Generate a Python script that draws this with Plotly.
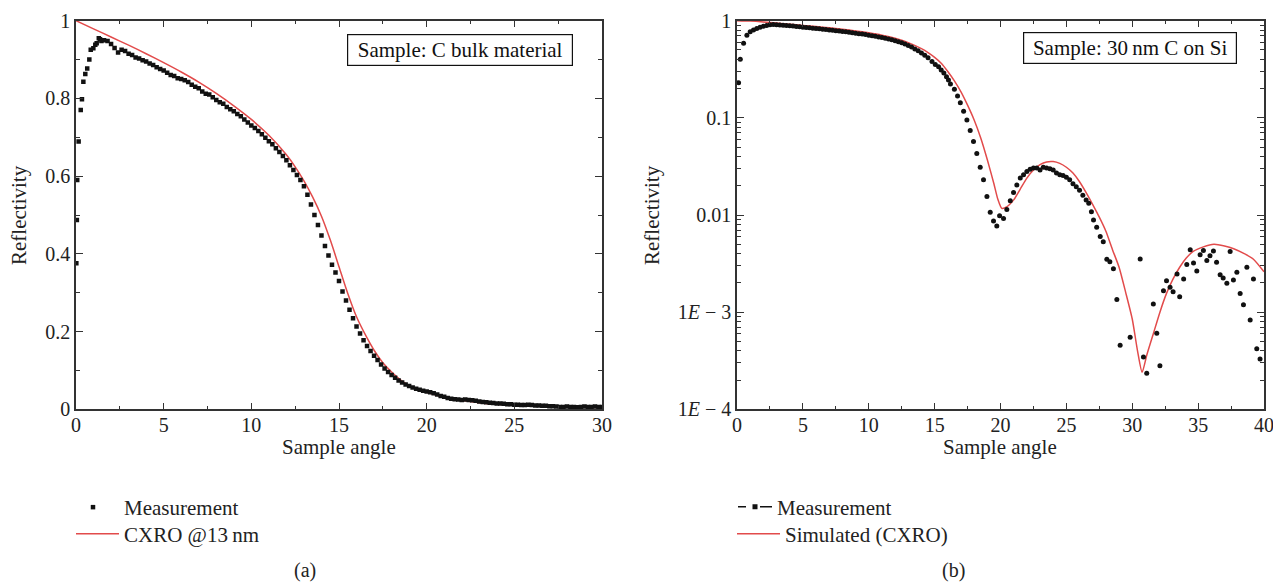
import plotly.graph_objects as go

# ---------------- panel (a): C bulk material ----------------
a_meas_x = [0.02, 0.05, 0.07, 0.15, 0.27, 0.34, 0.42, 0.53, 0.64, 0.76,
            0.84, 0.99, 1.10, 1.18, 1.30, 1.37, 1.45,
            1.6, 1.8, 2.0, 2.2, 2.4, 2.6, 2.8, 3.0, 3.2, 3.4,
            3.6, 3.8, 4.0, 4.2, 4.4, 4.6, 4.8, 5.0, 5.2, 5.4,
            5.6, 5.8, 6.0, 6.2, 6.4, 6.6, 6.8, 7.0, 7.2, 7.4,
            7.6, 7.8, 8.0, 8.2, 8.4, 8.6, 8.8, 9.0, 9.2, 9.4,
            9.6, 9.8, 10.0, 10.2, 10.4, 10.6, 10.8, 11.0, 11.2, 11.4,
            11.6, 11.8, 12.0, 12.2, 12.4, 12.6, 12.8, 13.0, 13.2, 13.4,
            13.6, 13.8, 14.0, 14.2, 14.4, 14.6, 14.8, 15.0, 15.2, 15.4,
            15.6, 15.8, 16.0, 16.2, 16.4, 16.6, 16.8, 17.0, 17.2, 17.4,
            17.6, 17.8, 18.0, 18.2, 18.4, 18.6, 18.8, 19.0, 19.2, 19.4,
            19.6, 19.8, 20.0, 20.2, 20.4, 20.6, 20.8, 21.0, 21.2, 21.4,
            21.6, 21.8, 22.0, 22.2, 22.4, 22.6, 22.8, 23.0, 23.2, 23.4,
            23.6, 23.8, 24.0, 24.2, 24.4, 24.6, 24.8, 25.0, 25.2, 25.4,
            25.6, 25.8, 26.0, 26.2, 26.4, 26.6, 26.8, 27.0, 27.2, 27.4,
            27.6, 27.8, 28.0, 28.2, 28.4, 28.6, 28.8, 29.0, 29.2, 29.4,
            29.6, 29.8, 30.0]
a_meas_y = [0.376, 0.487, 0.590, 0.689, 0.770, 0.798, 0.843, 0.863, 0.877, 0.900,
            0.925, 0.929, 0.938, 0.942, 0.955, 0.952, 0.948,
            0.950, 0.948, 0.940, 0.930, 0.918, 0.925, 0.922, 0.915, 0.912, 0.905,
            0.903, 0.898, 0.895, 0.890, 0.886, 0.880, 0.876, 0.872, 0.866, 0.860,
            0.858, 0.852, 0.850, 0.847, 0.842, 0.835, 0.830, 0.826, 0.818, 0.812,
            0.810, 0.803, 0.796, 0.790, 0.786, 0.778, 0.772, 0.767, 0.760, 0.754,
            0.746, 0.738, 0.730, 0.724, 0.716, 0.708, 0.699, 0.690, 0.682, 0.672,
            0.662, 0.652, 0.641, 0.628, 0.616, 0.603, 0.590, 0.574, 0.552, 0.527,
            0.500, 0.474, 0.447, 0.420, 0.396, 0.372, 0.352, 0.330, 0.303, 0.280,
            0.256, 0.234, 0.213, 0.195, 0.178, 0.163, 0.150, 0.138, 0.127, 0.115,
            0.105, 0.096, 0.088, 0.081, 0.074, 0.069, 0.064, 0.060, 0.056, 0.053,
            0.050, 0.048, 0.046, 0.044, 0.041, 0.038, 0.034, 0.032, 0.029, 0.027,
            0.026, 0.025, 0.024, 0.025, 0.024, 0.023, 0.022, 0.020, 0.019, 0.018,
            0.017, 0.016, 0.015, 0.015, 0.014, 0.013, 0.013, 0.012, 0.012, 0.011,
            0.011, 0.012, 0.011, 0.010, 0.010, 0.009, 0.009, 0.008, 0.008, 0.007,
            0.006, 0.006, 0.007, 0.006, 0.006, 0.005, 0.006, 0.007, 0.006, 0.006,
            0.007, 0.006, 0.006]

a_cxro_x = [0, 1, 2, 3, 4, 5, 6, 7, 8, 9,
            10, 11, 12, 12.5, 13, 13.5, 14, 14.5, 15, 15.5,
            16, 16.5, 17, 17.5, 18, 18.5, 19, 19.5, 20, 21,
            22, 23, 24, 25, 26, 27, 28, 29, 30]
a_cxro_y = [1.0, 0.979, 0.958, 0.937, 0.915, 0.892, 0.868, 0.842, 0.813, 0.781,
            0.746, 0.705, 0.655, 0.624, 0.588, 0.546, 0.497, 0.436, 0.367, 0.298,
            0.238, 0.192, 0.152, 0.120, 0.096, 0.076, 0.061, 0.051, 0.044, 0.031,
            0.023, 0.017, 0.013, 0.011, 0.009, 0.007, 0.006, 0.005, 0.005]

# ---------------- panel (b): 30 nm C on Si ----------------
b_meas_x = [0.12, 0.25, 0.5, 0.75, 1.0, 1.25, 1.5, 1.75, 2.0, 2.25,
            2.5, 2.75, 3.0, 3.25, 3.5, 3.75, 4.0, 4.25, 4.5, 4.75,
            5.0, 5.25, 5.5, 5.75, 6.0, 6.25, 6.5, 6.75, 7.0, 7.25,
            7.5, 7.75, 8.0, 8.25, 8.5, 8.75, 9.0, 9.25, 9.5, 9.75,
            10.0, 10.25, 10.5, 10.75, 11.0, 11.25, 11.5, 11.75, 12.0, 12.25,
            12.5, 12.75, 13.0, 13.25, 13.5, 13.75, 14.0, 14.25, 14.5, 14.8,
            15.05, 15.3, 15.5, 15.7, 15.9, 16.05, 16.2, 16.5, 16.74, 16.95,
            17.2, 17.45, 17.7, 17.95, 18.2, 18.46, 18.71, 18.97, 19.22, 19.47,
            19.72, 19.93, 20.23, 20.48, 20.74, 20.99, 21.24, 21.5, 21.75, 22.0,
            22.25, 22.5, 22.75, 23.0, 23.25, 23.5, 23.75, 24.0, 24.25, 24.5,
            24.75, 25.0, 25.25, 25.5, 25.75, 26.0, 26.25, 26.5, 26.7, 26.9,
            27.06, 27.3, 27.57, 27.8, 28.07, 28.3, 28.57, 28.83, 29.08, 29.84,
            30.6, 30.85, 31.1, 31.6, 31.86, 32.1, 32.37, 32.6, 32.87, 33.1,
            33.4, 33.6, 33.9, 34.14, 34.4, 34.65, 34.9, 35.15, 35.4, 35.66,
            35.9, 36.16, 36.4, 36.67, 36.9, 37.18, 37.43, 37.68, 37.94, 38.19,
            38.44, 38.7, 38.95, 39.2, 39.45, 39.7]
b_meas_y = [0.23, 0.40, 0.585, 0.71, 0.77, 0.80, 0.83, 0.855, 0.875, 0.895,
            0.91, 0.915, 0.91, 0.905, 0.90, 0.893, 0.886, 0.88, 0.872, 0.865,
            0.858, 0.852, 0.845, 0.838, 0.83, 0.825, 0.818, 0.81, 0.803, 0.796,
            0.789, 0.782, 0.775, 0.768, 0.76, 0.752, 0.744, 0.736, 0.728, 0.72,
            0.71, 0.70, 0.69, 0.68, 0.67, 0.66, 0.648, 0.636, 0.622, 0.608,
            0.592, 0.575, 0.555, 0.535, 0.512, 0.49, 0.465, 0.44, 0.415, 0.38,
            0.355, 0.336, 0.31, 0.29, 0.265, 0.245, 0.223, 0.197, 0.168, 0.143,
            0.117, 0.095, 0.074, 0.057, 0.043, 0.031, 0.023, 0.0155, 0.0107, 0.0087,
            0.0077, 0.0098, 0.0092, 0.0114, 0.014, 0.017, 0.0204, 0.024, 0.026, 0.028,
            0.0295, 0.0305, 0.0305, 0.029, 0.031, 0.0305, 0.030, 0.029, 0.027, 0.026,
            0.0255, 0.0245, 0.023, 0.021, 0.0195, 0.018, 0.016, 0.0143, 0.0132, 0.0108,
            0.0089, 0.0075, 0.006, 0.0053, 0.0035, 0.0033, 0.0028, 0.00135, 0.000455, 0.00055,
            0.00352, 0.000345, 0.000235, 0.00121, 0.000605, 0.00028, 0.00166, 0.0021, 0.0018, 0.00162,
            0.00247, 0.00144, 0.00219, 0.0031, 0.0044, 0.0032, 0.00265, 0.0039, 0.0043, 0.0034,
            0.0038, 0.00426, 0.00326, 0.00243, 0.00224, 0.00198, 0.0042, 0.00214, 0.00257, 0.00156,
            0.00119, 0.0029, 0.00083, 0.00219, 0.00042, 0.00033]

b_sim_x = [0, 1, 2, 3, 4, 5, 6, 7, 8, 9,
           10, 11, 12, 13, 14, 14.5, 15, 15.5, 16, 16.5,
           17, 17.5, 18, 18.5, 19, 19.5, 19.8, 20.1, 20.5, 21,
           21.5, 22, 22.5, 23, 23.5, 24, 24.5, 25, 25.5, 26,
           26.5, 27, 27.5, 28, 28.5, 29, 29.5, 30, 30.4, 30.75,
           31.1, 31.6, 32.1, 32.6, 33.1, 33.6, 34.1, 34.6, 35.4, 36.2,
           37, 37.7, 38.5, 39.2, 40]
b_sim_y = [1.0, 0.99, 0.97, 0.945, 0.92, 0.895, 0.87, 0.845, 0.815, 0.785,
           0.75, 0.71, 0.66, 0.595, 0.515, 0.47, 0.42, 0.365, 0.30, 0.24,
           0.185, 0.135, 0.095, 0.062, 0.037, 0.021, 0.0145, 0.0117, 0.0122, 0.0143,
           0.0185, 0.024, 0.029, 0.033, 0.0352, 0.0355, 0.034, 0.031, 0.027, 0.022,
           0.017, 0.0128, 0.0095, 0.0068, 0.0044, 0.0029, 0.0016, 0.00085, 0.0004, 0.00024,
           0.00036, 0.0006, 0.001, 0.00156, 0.0022, 0.0029, 0.0036, 0.0042, 0.0047, 0.005,
           0.0048, 0.0045, 0.004, 0.0035, 0.0026]

a_xticks = [0, 5, 10, 15, 20, 25, 30]
a_yticks = [0, 0.2, 0.4, 0.6, 0.8, 1]
b_xticks = [0, 5, 10, 15, 20, 25, 30, 35, 40]
b_yticks = [1e-4, 1e-3, 0.01, 0.1, 1]
b_yticktext = ["1<i>E</i> − 4", "1<i>E</i> − 3", "0.01", "0.1", "1"]

# ---------------- geometry (page body has an 8px margin) ----------------
OFF = 8
W, H = 1281 - OFF, 583 - OFF


def px(X):
    return (X - OFF) / W


def py(Y):
    return (H - (Y - OFF)) / H


FONT = "Liberation Serif"
RED = "#e24b4b"
INK = "#111111"
AXC = "#333333"
TXT = "#222222"

fig = go.Figure()

fig.add_trace(go.Scatter(x=a_cxro_x, y=a_cxro_y, mode="lines", name="CXRO @13\u2009nm",
                         line=dict(color=RED, width=1.5, shape="spline", smoothing=0.8),
                         xaxis="x", yaxis="y", legend="legend3"))
fig.add_trace(go.Scatter(x=a_meas_x, y=a_meas_y, mode="markers", name="Measurement",
                         marker=dict(symbol="square", size=4.5, color=INK, line=dict(width=0)),
                         xaxis="x", yaxis="y", legend="legend"))

fig.add_trace(go.Scatter(x=b_sim_x, y=b_sim_y, mode="lines", name="Simulated (CXRO)",
                         line=dict(color=RED, width=1.5, shape="spline", smoothing=0.6),
                         xaxis="x2", yaxis="y2", legend="legend4"))
fig.add_trace(go.Scatter(x=b_meas_x, y=b_meas_y, mode="markers", showlegend=False,
                         marker=dict(symbol="circle", size=5, color=INK, line=dict(width=0)),
                         xaxis="x2", yaxis="y2"))
fig.add_trace(go.Scatter(x=[None], y=[None], mode="lines+markers", name="Measurement",
                         line=dict(color=INK, width=1.5, dash="8px,14px,8px,0px"),
                         marker=dict(symbol="square", size=5, color=INK),
                         xaxis="x2", yaxis="y2", legend="legend2"))

axis_common = dict(showline=True, linecolor=AXC, linewidth=1.5, mirror="ticks",
                   ticks="inside", ticklen=7, tickwidth=1.2, tickcolor=AXC,
                   showgrid=False, zeroline=False, automargin=False,
                   tickfont=dict(family=FONT, size=20, color=TXT))
minor_common = dict(ticks="inside", ticklen=4, tickwidth=1.2, tickcolor=AXC)

Y0, Y1 = py(409.3), py(20.7)


def leg(x_left, y_mid, item_w):
    return dict(x=px(x_left), y=py(y_mid), xanchor="left", yanchor="middle",
                bgcolor="rgba(0,0,0,0)", borderwidth=0, itemwidth=item_w,
                font=dict(family=FONT, size=21, color=TXT))


def txt(text, X, Y, angle=0, size=21):
    return dict(text=text, xref="paper", yref="paper", x=px(X), y=py(Y),
                xanchor="center", yanchor="middle", showarrow=False, textangle=angle,
                font=dict(family=FONT, size=size, color=TXT))


fig.update_layout(
    width=W, height=H,
    margin=dict(l=0, r=0, t=0, b=0),
    paper_bgcolor="white", plot_bgcolor="white",
    font=dict(family=FONT, size=21, color=TXT),
    xaxis=dict(domain=[px(76), px(602)], anchor="y", range=[0, 30], ticklabelstandoff=-3,
               tickvals=a_xticks, minor=dict(dtick=2.5, **minor_common), **axis_common),
    yaxis=dict(domain=[Y0, Y1], anchor="x", range=[0, 1],
               tickvals=a_yticks, minor=dict(dtick=0.1, **minor_common), **axis_common),
    xaxis2=dict(domain=[px(737), px(1264)], anchor="y2", range=[0, 40], ticklabelstandoff=-3,
                tickvals=b_xticks, minor=dict(dtick=2.5, **minor_common), **axis_common),
    yaxis2=dict(domain=[Y0, Y1], anchor="x2", type="log", range=[-4, 0],
                tickvals=b_yticks, ticktext=b_yticktext,
                minor=dict(tickvals=[k * 10.0 ** e for e in range(-4, 0) for k in range(2, 10)],
                           **minor_common), **axis_common),
    legend=leg(62, 507.5, 52),
    legend3=leg(71, 534, 43),
    legend2=leg(733, 507, 34),
    legend4=leg(732, 534, 43),
    annotations=[
        dict(text="Sample: C bulk material", xref="paper", yref="paper",
             x=px(459.7), y=py(49.5), xanchor="center", yanchor="middle",
             showarrow=False, font=dict(family=FONT, size=21, color=INK),
             bordercolor=INK, borderwidth=1.2, borderpad=2, width=220, height=26, bgcolor="white"),
        dict(text="Sample: 30\u2009nm C on Si", xref="paper", yref="paper",
             x=px(1129.7), y=py(48.5), xanchor="center", yanchor="middle",
             showarrow=False, font=dict(family=FONT, size=21, color=INK),
             bordercolor=INK, borderwidth=1.2, borderpad=2, width=208, height=26, bgcolor="white"),
        txt("Sample angle", 339, 447),
        txt("Sample angle", 1000, 447),
        txt("Reflectivity", 19, 215, -90),
        txt("Reflectivity", 652, 215, -90),
        txt("(a)", 305, 570, size=20),
        txt("(b)", 953, 570, size=20),
    ],
)

fig.write_html("out.html")
